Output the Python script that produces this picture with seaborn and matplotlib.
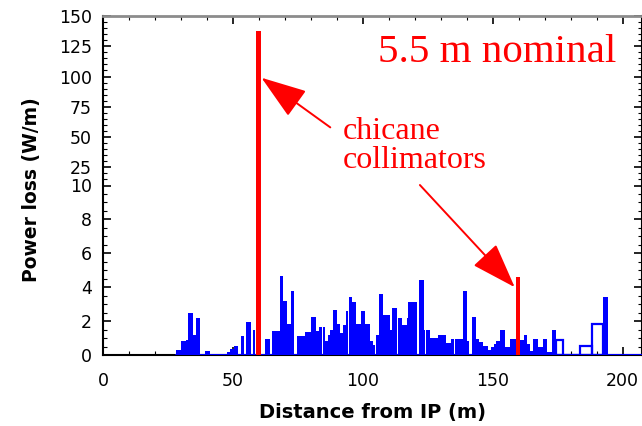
import numpy as np
import pandas as pd
import matplotlib
matplotlib.use("Agg")
import matplotlib.pyplot as plt
import seaborn as sns

# blue histogram: bin edges along the beam line (m) and power loss per bin (W/m)
bin_edges = [28.0, 30.2, 31.8, 32.8, 34.7, 35.7, 37.5, 39.2, 41.2, 47.6,
             48.8, 50.4, 52.0, 53.1, 54.2, 55.0, 56.8, 57.6, 58.7, 62.3,
             64.2, 65.0, 68.3, 69.4, 70.9, 72.2, 73.7, 74.7, 77.7, 80.2,
             82.0, 83.3, 84.2, 84.6, 85.5, 86.5, 87.4, 88.4, 90.1, 91.4,
             92.4, 93.7, 94.3, 94.7, 96.0, 97.5, 99.5, 101.0, 102.6, 104.0,
             104.6, 105.0, 106.2, 107.9, 110.4, 111.4, 113.3, 113.7, 115.0, 116.9,
             117.3, 120.8, 121.6, 123.4, 124.0, 124.4, 125.7, 128.9, 131.9, 134.1,
             135.0, 135.4, 138.5, 140.2, 141.0, 142.1, 143.6, 144.7, 146.2, 148.2,
             149.2, 150.4, 151.4, 153.0, 154.6, 156.5, 160.4, 162.2, 163.2, 164.2,
             165.7, 167.6, 169.3, 171.1, 172.8, 174.4, 192.3, 194.5, 208.0]
power_loss = [0.3, 0.8, 0.9, 2.5, 1.2, 2.2, 0.0, 0.25, 0.0,
              0.2, 0.35, 0.55, 0.0, 1.1, 0.0, 1.95, 0.0, 1.5, 0.0,
              0.95, 0.0, 1.4, 4.65, 3.2, 1.8, 3.8, 0.0, 1.1, 1.35,
              2.25, 1.4, 1.65, 0.0, 1.65, 0.8, 1.2, 1.5, 2.65, 1.8,
              1.3, 1.75, 2.6, 0.0, 3.4, 3.1, 1.8, 2.6, 1.8, 0.8,
              0.6, 0.0, 1.2, 3.6, 2.35, 1.5, 2.8, 0.0, 2.2, 1.75,
              2.2, 3.1, 0.0, 4.4, 1.5, 0.0, 1.5, 1.0, 1.2, 0.7,
              0.95, 0.0, 0.95, 3.8, 0.85, 0.0, 2.25, 0.95, 0.75, 0.55,
              0.3, 0.45, 0.65, 0.8, 1.5, 0.45, 0.95, 0.9, 1.2, 0.65,
              0.25, 0.95, 0.45, 0.95, 0.2, 1.5, 0.0, 3.4, 0.0]

# bins drawn only as outlines
hollow_edges = [174.4, 177.2, 183.6, 188.1, 192.3]
hollow_loss = [0.9, 0.0, 0.55, 1.8]

# chicane collimator spikes
collimator_x = [59.7, 159.7]
collimator_loss = [138.0, 4.6]
collimator_width = [1.9, 1.4]

y_major = [0, 2, 4, 6, 8, 10, 25, 50, 75, 100, 125, 150]
x_major = [0, 50, 100, 150, 200]

BLUE = "#0000ff"
RED = "#ff0000"


def fwd(y):
    y = np.asarray(y, dtype=float)
    return np.where(y <= 10, y, 10 + (y - 10) / 14.0)


def inv(t):
    t = np.asarray(t, dtype=float)
    return np.where(t <= 10, t, 10 + (t - 10) * 14.0)


def centers(edges):
    e = np.asarray(edges)
    return (e[:-1] + e[1:]) / 2


sns.set_style("ticks")
plt.rcParams["font.family"] = ["DejaVu Sans"]
plt.rcParams["text.color"] = "black"
plt.rcParams["axes.labelcolor"] = "black"

fig = plt.figure(figsize=(6.42, 4.26), dpi=100)
ax = fig.add_axes([103 / 642, 71 / 426, 539 / 642, 339 / 426])

hist_df = pd.DataFrame({"x": centers(bin_edges), "w": power_loss})
sns.histplot(data=hist_df, x="x", weights="w", bins=bin_edges, element="step",
             fill=True, color=BLUE, alpha=1, linewidth=0, zorder=3, ax=ax)
# zero line of the histogram
ax.plot([bin_edges[0], bin_edges[-1]], [0, 0], color=BLUE, lw=1.5, zorder=3)

hollow_df = pd.DataFrame({"x": centers(hollow_edges), "w": hollow_loss})
sns.histplot(data=hollow_df, x="x", weights="w", bins=hollow_edges, element="bars",
             fill=False, color=BLUE, linewidth=1.6, zorder=3, ax=ax)

ax.bar(collimator_x, collimator_loss, width=collimator_width, color=RED,
       linewidth=0, zorder=4)

ax.set_yscale("function", functions=(fwd, inv))
ax.set_ylim(0, 150)
ax.set_xlim(0, 207.5)

ax.set_yticks(y_major)
ax.set_yticklabels([str(v) for v in y_major])
y_minor = [v for v in list(np.arange(0, 10, 0.5)) + list(range(15, 150, 5)) if v not in y_major]
ax.set_yticks(y_minor, minor=True)
ax.set_xticks(x_major)
ax.set_xticklabels([str(v) for v in x_major])
ax.set_xticks([v for v in range(0, 210, 10) if v not in x_major], minor=True)

ax.tick_params(which="both", direction="in", top=True, right=True,
               color="black", labelcolor="black")
ax.tick_params(which="major", length=6, width=1.2, labelsize=12.5)
ax.tick_params(which="minor", length=3, width=0.8)
ax.tick_params(axis="y", which="major", pad=8)
ax.tick_params(axis="x", which="major", pad=12)

for side in ["left", "bottom", "right"]:
    ax.spines[side].set_linewidth(1.5)
    ax.spines[side].set_color("black")
ax.spines["top"].set_color("#8c8c8c")
ax.spines["top"].set_linewidth(2)

ax.set_xlabel("Distance from IP (m)", fontsize=14, fontweight="bold", va="top")
ax.xaxis.set_label_coords(0.5, -0.142)
ax.set_ylabel("Power loss (W/m)", fontsize=13.5, fontweight="bold")
ax.yaxis.set_label_coords(-0.115, 0.487)

ax.text(105.8, 120, "5.5 m nominal", color=RED, fontsize=29.5,
        family="Liberation Serif", ha="left", va="center")
ax.text(92.3, 43, "chicane\ncollimators", color=RED, fontsize=23,
        family="Liberation Serif", ha="left", va="center", linespacing=1.0)

arrow = dict(arrowstyle="-|>,head_length=1.3,head_width=0.45", color=RED,
             lw=1.4, mutation_scale=22, shrinkA=0, shrinkB=0)
ax.annotate("", xy=(61, 99), xytext=(87.5, 58), arrowprops=arrow)
ax.annotate("", xy=(158.5, 4.0), xytext=(122, 10.4), arrowprops=arrow)

fig.savefig("out.png", dpi=100, facecolor="white")
